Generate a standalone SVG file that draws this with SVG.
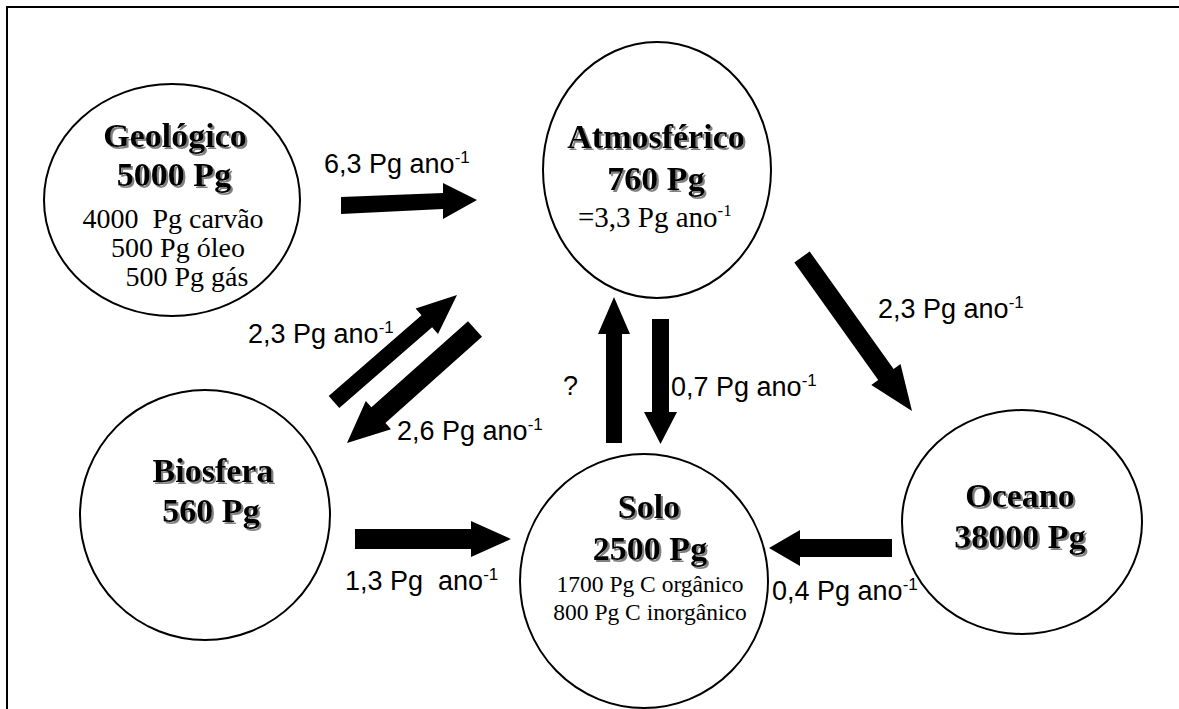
<svg xmlns="http://www.w3.org/2000/svg" width="1179" height="709" viewBox="0 0 1179 709">
<defs>
<filter id="sh" x="-10%" y="-20%" width="130%" height="150%">
<feDropShadow dx="2" dy="2" stdDeviation="0.6" flood-color="#808080" flood-opacity="1"/>
</filter>
</defs>
<style>
.node ellipse{fill:#fff;stroke:#000;stroke-width:2}
.t{font-family:"Liberation Serif","Times New Roman",serif;font-weight:bold;font-size:34px;text-anchor:middle;fill:#000;filter:url(#sh)}
.s{font-family:"Liberation Serif","Times New Roman",serif;font-size:28px;text-anchor:middle;fill:#000}
.s2{font-family:"Liberation Serif","Times New Roman",serif;font-size:23.5px;text-anchor:middle;fill:#000}
.l{font-family:"Liberation Sans",Arial,sans-serif;font-size:27px;fill:#000}
.sup{font-size:17px}
.arrows polygon{fill:#000}
</style>
<rect x="0" y="0" width="1179" height="709" fill="#fff"/>
<path d="M7,709 V7 H1179" fill="none" stroke="#000" stroke-width="2"/>

<g id="geologico" class="node">
<ellipse cx="172" cy="200" rx="128" ry="116"/>
<text class="t" x="175" y="147">Geológico</text>
<text class="t" x="174" y="186">5000 Pg</text>
<text class="s" x="173" y="228">4000&#160; Pg carvão</text>
<text class="s" x="178" y="257">500 Pg óleo</text>
<text class="s" x="187" y="286">500 Pg gás</text>
</g>

<g id="atmosferico" class="node">
<ellipse cx="657" cy="170" rx="114" ry="128"/>
<text class="t" x="656" y="148">Atmosférico</text>
<text class="t" x="656" y="190">760 Pg</text>
<text class="s" x="578" y="227" style="text-anchor:start;font-size:29px">=3,3 Pg ano<tspan class="sup" dy="-11">-1</tspan></text>
</g>

<g id="biosfera" class="node">
<ellipse cx="205" cy="515" rx="125" ry="125"/>
<text class="t" x="213" y="482">Biosfera</text>
<text class="t" x="211" y="522">560 Pg</text>
</g>

<g id="solo" class="node">
<ellipse cx="644" cy="581" rx="124" ry="127"/>
<text class="t" x="649" y="518">Solo</text>
<text class="t" x="650" y="560">2500 Pg</text>
<text class="s2" x="650" y="592">1700 Pg C orgânico</text>
<text class="s2" x="650" y="620">800 Pg C inorgânico</text>
</g>

<g id="oceano" class="node">
<ellipse cx="1022" cy="522" rx="120" ry="112"/>
<text class="t" x="1020" y="507">Oceano</text>
<text class="t" x="1020" y="548">38000 Pg</text>
</g>

<g id="connectors" class="arrows">
<polygon points="341,197 443,193 443,183 477,200 443,219 443,209 341,214"/>
<polygon points="339.3,408 432.1,327.3 438,334.1 457,295 415.6,308.5 421.5,315.3 328.7,396"/>
<polygon points="482,336.8 385.4,422.9 391,429.3 347,443 365.8,400.9 371.4,407.3 468,321.2"/>
<polygon points="809.7,251.5 893.6,368.9 900.5,363.9 912,411 871.3,384.9 878.2,379.9 794.3,262.5"/>
<polygon points="606,443 606,334 598,334 614,297 630,334 622,334 622,443"/>
<polygon points="652,319 669,319 669,412 677,412 660.5,444 644,412 652,412"/>
<polygon points="355,529 471,529 471,521 511,539 471,557 471,549 355,549"/>
<polygon points="892,539 800,539 800,530 769,548 800,566 800,557 892,557"/>
</g>

<g id="labels">
<text class="l" x="324" y="173">6,3 Pg ano<tspan class="sup" dy="-10">-1</tspan></text>
<text class="l" x="248" y="343">2,3 Pg ano<tspan class="sup" dy="-10">-1</tspan></text>
<text class="l" x="397" y="440">2,6 Pg ano<tspan class="sup" dy="-10">-1</tspan></text>
<text class="l" x="563" y="395">?</text>
<text class="l" x="671" y="396">0,7 Pg ano<tspan class="sup" dy="-10">-1</tspan></text>
<text class="l" x="878" y="318">2,3 Pg ano<tspan class="sup" dy="-10">-1</tspan></text>
<text class="l" x="345" y="590">1,3 Pg&#160; ano<tspan class="sup" dy="-10">-1</tspan></text>
<text class="l" x="772" y="600">0,4 Pg ano<tspan class="sup" dy="-10">-1</tspan></text>
</g>
</svg>
